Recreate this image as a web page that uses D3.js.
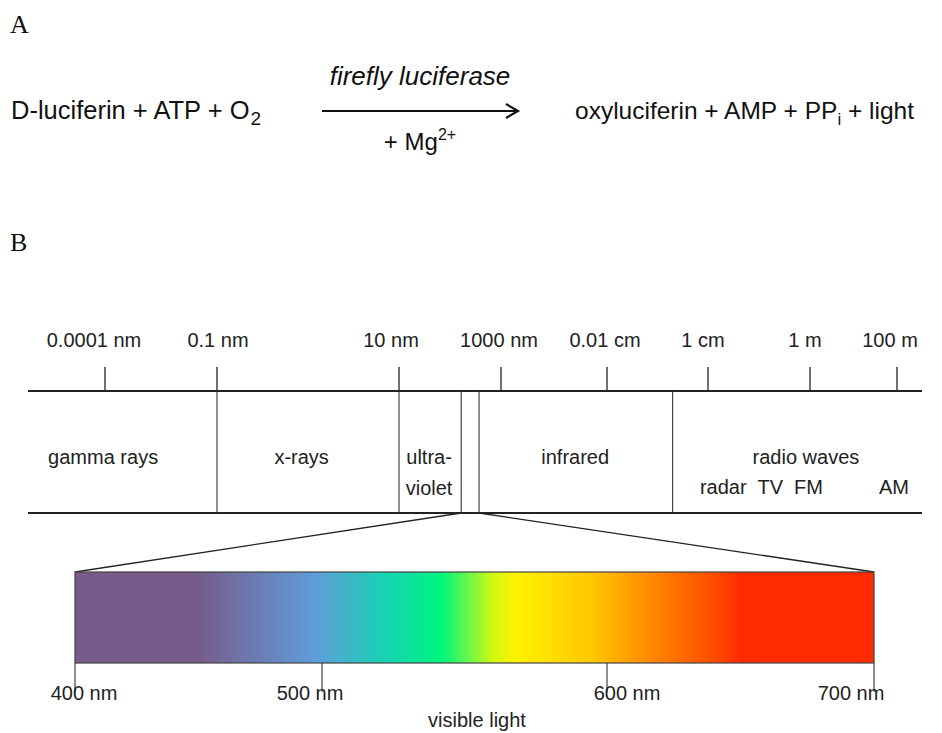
<!DOCTYPE html>
<html>
<head>
<meta charset="utf-8">
<script src="https://cdn.jsdelivr.net/npm/d3@7"></script>
<style>
  body { margin: 0; background: #fff; }
  text { font-family: "Liberation Sans", Arial, sans-serif; fill: #222; }
  .panel { font-family: "Liberation Serif", "Times New Roman", serif; fill: #111; }
</style>
</head>
<body>
<svg id="chart" width="942" height="733"></svg>
<script>
// wavelength ruler: log10(metres) of each tick and its label
const tickExp = [-13, -10, -8, -6, -4, -2, 0, 2];
const tickLabels = ["0.0001 nm", "0.1 nm", "10 nm", "1000 nm", "0.01 cm", "1 cm", "1 m", "100 m"];
// pixel anchors of the (schematic, uneven) ruler
const tickPx = [105, 217, 399, 501, 607, 708, 810, 897];
const tickLabelDx = [-11, 1, -8, -2, -2, -5, -5, -7];

// band edges (log10 m)
const bandEdges = [-10, -8, -6.78, -6.43, -2.7];
const bandNames = ["gamma rays", "x-rays", "ultra-|violet", "infrared", "radio waves"];
const bandLabelExp = [-13.05, -9.07, -7.41, -4.6, -0.08];
const radioNames = ["radar", "TV", "FM", "AM"];
const radioExp = [-1.7, -0.78, -0.03, 1.93];

// visible spectrum
const nmTicks = [400, 500, 600, 700];
const nmPx = [75, 322, 607, 874];
const nmLabelDx = [9, -12, 20, -23];
const stopNm = [400, 449, 475, 498, 524, 542, 552, 560, 568, 595, 615, 640, 651, 700];
const stopColor = ["#765a8a", "#765a8a", "#6c7eb6", "#5e9fd9", "#12d6b0", "#00f57c", "#70f848",
                   "#d2f810", "#fff200", "#ffc600", "#ff8c00", "#ff4c00", "#ff2a00", "#ff2a00"];

const svg = d3.select("#chart");

// ---------- panel A ----------
svg.append("text").attr("class", "panel").attr("x", 10).attr("y", 33)
   .style("font-size", "26px").text("A");
svg.append("text").attr("class", "panel").attr("x", 10).attr("y", 251)
   .style("font-size", "26px").text("B");

let eqY = 119;
let left = svg.append("text").attr("x", 11).attr("y", eqY).style("font-size", "25.5px").style("fill", "#111");
left.append("tspan").text("D-luciferin + ATP + O");
left.append("tspan").attr("dy", 6).attr("dx", 1).style("font-size", "19px").text("2");

let right = svg.append("text").attr("x", 575).attr("y", eqY).style("font-size", "24.5px").style("fill", "#111");
right.append("tspan").text("oxyluciferin + AMP + PP");
right.append("tspan").attr("dy", 6).style("font-size", "17px").text("i");
right.append("tspan").attr("dy", -6).text(" + light");

svg.append("text").attr("x", 420).attr("y", 85).attr("text-anchor", "middle")
   .style("font-size", "26px").style("font-style", "italic").style("fill", "#111")
   .text("firefly luciferase");
let mg = svg.append("text").attr("x", 420).attr("y", 150).attr("text-anchor", "middle")
   .style("font-size", "24px").style("fill", "#111");
mg.append("tspan").text("+ Mg");
mg.append("tspan").attr("dy", -10).style("font-size", "16px").text("2+");

svg.append("line").attr("x1", 322).attr("x2", 517).attr("y1", 111).attr("y2", 111)
   .attr("stroke", "#111").attr("stroke-width", 2.2);
svg.append("path").attr("d", "M506,104 L518,111 L506,118")
   .attr("fill", "none").attr("stroke", "#111").attr("stroke-width", 2.2);

// ---------- panel B: ruler ----------
const x = d3.scaleLinear().domain(tickExp).range(tickPx);
const topY = 391, botY = 513, lineL = 28, lineR = 922;

svg.append("g").selectAll("line").data(tickExp).join("line")
   .attr("x1", d => x(d)).attr("x2", d => x(d))
   .attr("y1", 367).attr("y2", topY)
   .attr("stroke", "#222").attr("stroke-width", 1.3);

svg.append("g").selectAll("text").data(tickExp).join("text")
   .attr("x", (d, i) => x(d) + tickLabelDx[i]).attr("y", 347).attr("text-anchor", "middle")
   .style("font-size", "20px")
   .text((d, i) => tickLabels[i]);

[topY, botY].forEach(y => {
  svg.append("line").attr("x1", lineL).attr("x2", lineR).attr("y1", y).attr("y2", y)
     .attr("stroke", "#222").attr("stroke-width", 1.8);
});

svg.append("g").selectAll("line").data(bandEdges).join("line")
   .attr("x1", d => x(d)).attr("x2", d => x(d))
   .attr("y1", topY).attr("y2", botY)
   .attr("stroke", "#333").attr("stroke-width", 1.1);

bandNames.forEach((name, i) => {
  let parts = name.split("|");
  let t = svg.append("text").attr("x", x(bandLabelExp[i])).attr("y", 464)
     .attr("text-anchor", "middle").style("font-size", "20px");
  parts.forEach((p, j) => {
    t.append("tspan").attr("x", x(bandLabelExp[i])).attr("dy", j === 0 ? 0 : 31).text(p);
  });
});

svg.append("g").selectAll("text").data(radioExp).join("text")
   .attr("x", d => x(d)).attr("y", 494).attr("text-anchor", "middle")
   .style("font-size", "20px")
   .text((d, i) => radioNames[i]);

// ---------- visible spectrum ----------
const nm = d3.scaleLinear().domain(nmTicks).range(nmPx);
const specTop = 572, specBot = 663;
const specL = nm(400), specR = nm(700);

const grad = svg.append("defs").append("linearGradient").attr("id", "spec")
   .attr("x1", "0%").attr("x2", "100%").attr("y1", "0%").attr("y2", "0%");
grad.selectAll("stop").data(stopNm).join("stop")
   .attr("offset", d => ((nm(d) - specL) / (specR - specL) * 100) + "%")
   .attr("stop-color", (d, i) => stopColor[i]);

// fan lines from the visible slice of the ruler
svg.append("line").attr("x1", x(bandEdges[2])).attr("y1", botY).attr("x2", specL).attr("y2", specTop)
   .attr("stroke", "#222").attr("stroke-width", 1.3);
svg.append("line").attr("x1", x(bandEdges[3])).attr("y1", botY).attr("x2", specR).attr("y2", specTop)
   .attr("stroke", "#222").attr("stroke-width", 1.3);

svg.append("rect").attr("x", specL).attr("y", specTop)
   .attr("width", specR - specL).attr("height", specBot - specTop)
   .attr("fill", "url(#spec)").attr("stroke", "#444").attr("stroke-width", 1.2);

svg.append("g").selectAll("line").data(nmTicks).join("line")
   .attr("x1", d => nm(d)).attr("x2", d => nm(d))
   .attr("y1", specBot).attr("y2", 692)
   .attr("stroke", "#444").attr("stroke-width", 1.2);

svg.append("g").selectAll("text").data(nmTicks).join("text")
   .attr("x", (d, i) => nm(d) + nmLabelDx[i]).attr("y", 700).attr("text-anchor", "middle")
   .style("font-size", "20px")
   .text(d => d + " nm");

svg.append("text").attr("x", 477).attr("y", 727).attr("text-anchor", "middle")
   .style("font-size", "20px").text("visible light");
</script>
</body>
</html>
